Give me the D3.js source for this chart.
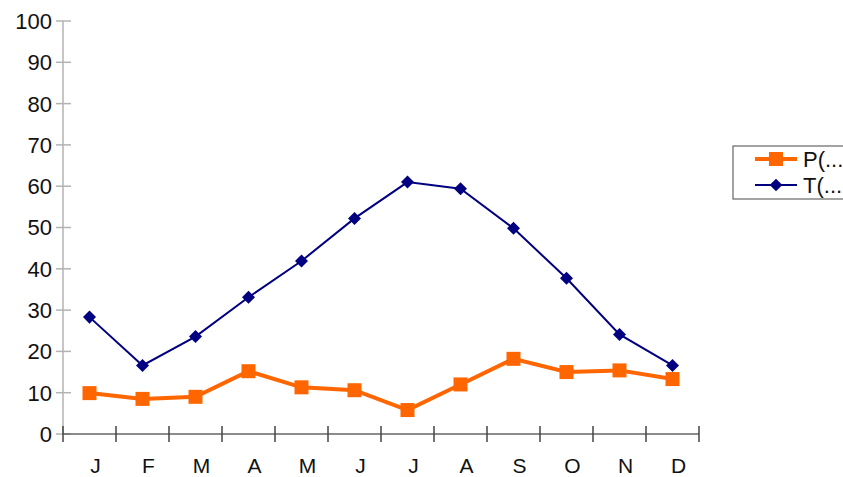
<!DOCTYPE html>
<html>
<head>
<meta charset="utf-8">
<script src="https://cdn.jsdelivr.net/npm/d3@7"></script>
<style>
  html, body { margin: 0; padding: 0; background: #fff; }
  svg { display: block; font-family: "Liberation Sans", Arial, sans-serif; }
</style>
</head>
<body>
<svg id="chart" width="843" height="477"></svg>
<script>
// Monthly series
const months = ["J", "F", "M", "A", "M", "J", "J", "A", "S", "O", "N", "D"];
const precipitation = [9.9, 8.5, 9.0, 15.2, 11.3, 10.6, 5.8, 12.0, 18.2, 15.0, 15.4, 13.3];
const temperature = [28.3, 16.6, 23.6, 33.1, 41.9, 52.2, 61.0, 59.4, 49.8, 37.7, 24.1, 16.6];
const yTicks = [0, 10, 20, 30, 40, 50, 60, 70, 80, 90, 100];
const legendLabels = ["P(...", "T(..."];

const svg = d3.select("#chart");
const margin = { left: 63, right: 144, top: 21, bottom: 43 };
const width = 843, height = 477;

const x = d3.scaleBand()
  .domain(d3.range(months.length))
  .range([margin.left, width - margin.right]);

const y = d3.scaleLinear()
  .domain([0, 100])
  .range([height - margin.bottom, margin.top]);

// Y axis: grey line with ticks crossing both sides
const yAxis = svg.append("g").attr("transform", `translate(${margin.left},0)`);
yAxis.append("line")
  .attr("x1", 0).attr("x2", 0)
  .attr("y1", y(100)).attr("y2", y(0))
  .attr("stroke", "#b3b3b3").attr("stroke-width", 1.5);
yAxis.selectAll("line.tick").data(yTicks).enter().append("line")
  .attr("class", "tick")
  .attr("x1", -7).attr("x2", 8)
  .attr("y1", d => y(d)).attr("y2", d => y(d))
  .attr("stroke", "#b3b3b3").attr("stroke-width", 1.5);
yAxis.selectAll("text").data(yTicks).enter().append("text")
  .attr("x", -11).attr("y", d => y(d))
  .attr("dy", "0.36em")
  .attr("text-anchor", "end")
  .attr("font-size", 22)
  .attr("fill", "#111")
  .text(d => d);

// X axis: darker line with band-boundary ticks
const xAxis = svg.append("g").attr("transform", `translate(0,${y(0)})`);
xAxis.append("line")
  .attr("x1", margin.left).attr("x2", width - margin.right)
  .attr("y1", 0).attr("y2", 0)
  .attr("stroke", "#666").attr("stroke-width", 1.5);
const bounds = d3.range(months.length + 1).map(i => margin.left + i * x.step());
xAxis.selectAll("line.tick").data(bounds).enter().append("line")
  .attr("class", "tick")
  .attr("x1", d => d).attr("x2", d => d)
  .attr("y1", -8).attr("y2", 8)
  .attr("stroke", "#444").attr("stroke-width", 1.5);
xAxis.selectAll("text").data(months).enter().append("text")
  .attr("x", (d, i) => x(i) + x.bandwidth() / 2 + 6)
  .attr("y", 31)
  .attr("dy", "0.36em")
  .attr("text-anchor", "middle")
  .attr("font-size", 21)
  .attr("fill", "#111")
  .text(d => d);

const cx = (d, i) => x(i) + x.bandwidth() / 2;
const line = d3.line().x((d, i) => cx(d, i)).y(d => y(d));

// Temperature: navy line with diamonds
svg.append("path")
  .datum(temperature)
  .attr("d", line)
  .attr("fill", "none")
  .attr("stroke", "#000080")
  .attr("stroke-width", 2);
svg.selectAll("path.diamond").data(temperature).enter().append("path")
  .attr("class", "diamond")
  .attr("d", d3.symbol().type(d3.symbolSquare).size(85))
  .attr("transform", (d, i) => `translate(${cx(d, i)},${y(d)}) rotate(45)`)
  .attr("fill", "#000080");

// Precipitation: thick orange line with squares
svg.append("path")
  .datum(precipitation)
  .attr("d", line)
  .attr("fill", "none")
  .attr("stroke", "#ff6600")
  .attr("stroke-width", 4);
svg.selectAll("rect.sq").data(precipitation).enter().append("rect")
  .attr("class", "sq")
  .attr("x", (d, i) => cx(d, i) - 7)
  .attr("y", d => y(d) - 7)
  .attr("width", 14).attr("height", 14)
  .attr("fill", "#ff6600");

// Legend
const legend = svg.append("g").attr("transform", "translate(733,146)");
legend.append("rect")
  .attr("x", 0).attr("y", 0)
  .attr("width", 130).attr("height", 53)
  .attr("fill", "#fff")
  .attr("stroke", "#666").attr("stroke-width", 1.2);
const items = [
  { label: legendLabels[0], color: "#ff6600", width: 4, shape: "square" },
  { label: legendLabels[1], color: "#000080", width: 2, shape: "diamond" }
];
items.forEach((it, i) => {
  const ly = 13 + i * 26;
  const g = legend.append("g").attr("transform", `translate(0,${ly})`);
  g.append("line")
    .attr("x1", 22).attr("x2", 64)
    .attr("stroke", it.color).attr("stroke-width", it.width);
  if (it.shape === "square") {
    g.append("rect").attr("x", 36).attr("y", -7).attr("width", 14).attr("height", 14)
      .attr("fill", it.color);
  } else {
    g.append("path")
      .attr("d", d3.symbol().type(d3.symbolSquare).size(80))
      .attr("transform", "translate(43,0) rotate(45)")
      .attr("fill", it.color);
  }
  g.append("text")
    .attr("x", 70).attr("y", 0).attr("dy", "0.36em")
    .attr("font-size", 22).attr("fill", "#111")
    .text(it.label);
});
</script>
</body>
</html>
